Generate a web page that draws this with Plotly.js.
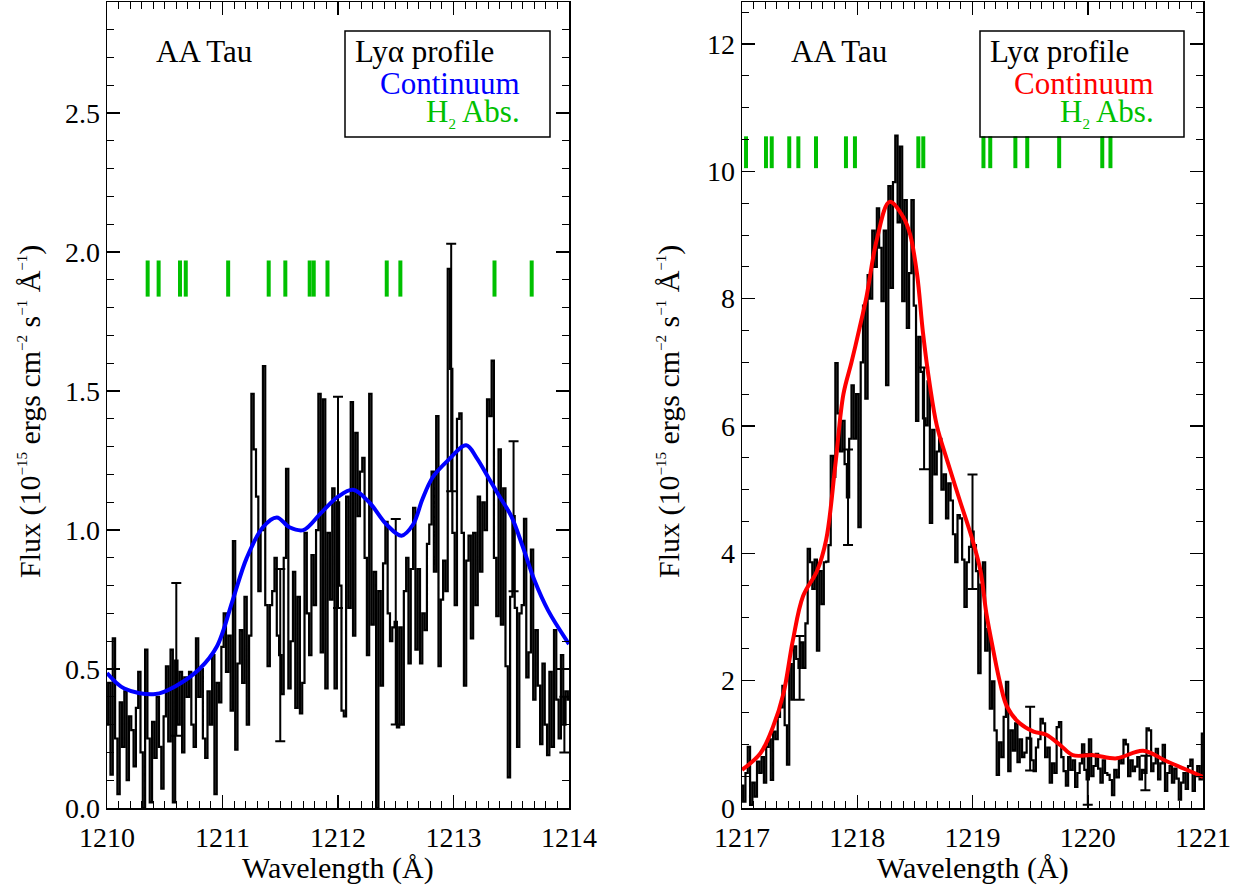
<!DOCTYPE html>
<html>
<head>
<meta charset="utf-8">
<script src="https://cdn.plot.ly/plotly-3.0.1.min.js"></script>
<style>html,body{margin:0;padding:0;background:#fff;}#chart{width:1249px;height:891px;}</style>
</head>
<body>
<div id="chart"></div>
<script>
// ---------------- DATA ----------------
// Left panel: observed Ly-alpha profile (flux in 1e-15 erg cm^-2 s^-1 A^-1), sampled every 0.02 A from 1210.00
const leftStart = 1210.00;
const leftStep = 0.02;
const leftFlux = [
  0.30, 0.45, 0.12, 0.61, 0.25, 0.05, 0.38, 0.22, 0.42, 0.10,
  0.33, 0.28, 0.15, 0.36, 0.49, 0.20, 0.00, 0.57, 0.25, 0.02,
  0.31, 0.18, 0.40, 0.22, 0.07, 0.33, 0.51, 0.24, 0.57, 0.02,
  0.53, 0.30, 0.49, 0.20, 0.47, 0.40, 0.49,
  0.30, 0.22, 0.61, 0.40, 0.50, 0.25, 0.18, 0.42, 0.30, 0.55,
  0.05, 0.45, 0.38, 0.58, 0.70, 0.49, 0.62, 0.35, 0.96, 0.21,
  0.52, 0.64, 0.45, 0.76, 0.30, 0.62, 1.49, 1.29, 1.12, 0.78,
  1.00, 1.59, 0.73,
  0.51, 0.73, 0.78, 0.90, 0.62, 0.55, 0.41, 0.90, 1.22, 0.43,
  0.60, 0.85, 0.36, 0.76, 0.34, 0.45, 0.99, 0.70, 0.55, 0.91,
  0.73, 1.00, 1.49, 0.56, 1.47, 0.43, 0.99, 0.75, 1.15, 0.43,
  1.10, 0.80, 0.35, 0.33, 1.12, 0.72, 1.46, 0.62, 1.35, 1.05,
  1.21, 1.26, 0.90, 0.55, 1.49, 0.66, 0.85, 0.00, 0.78, 0.44,
  0.88, 1.03, 0.70, 0.60, 0.65, 0.67, 0.29, 0.65, 0.30, 0.78,
  0.90, 0.52, 0.86, 1.08, 0.57,
  0.86, 0.52, 0.70, 0.64, 0.95, 1.02, 1.21, 0.85, 1.41, 0.51,
  0.75, 0.89, 0.78, 1.94, 1.58, 0.99, 0.73, 1.40, 1.42, 0.99,
  0.44, 0.89, 0.98, 0.61, 0.99, 0.73, 1.12, 0.85, 1.10, 1.00,
  1.47, 1.41, 1.61, 0.90, 0.69, 1.29, 0.66, 1.15, 0.51, 0.11,
  0.76, 1.05, 0.72, 0.22, 0.70, 0.73, 1.04, 0.47, 0.56, 0.93,
  0.39, 0.64, 0.44, 0.23, 0.52, 0.30, 0.19, 0.49, 0.22, 0.64,
  0.39, 0.25, 0.55, 0.30, 0.42, 0.39
];
const leftErrWave = [1210.60, 1211.50, 1212.00, 1212.50, 1212.98, 1213.52, 1213.96];
const leftErrFlux = [0.535, 0.55, 1.10, 0.67, 1.585, 1.05, 0.30];
const leftErrSize = [0.275, 0.31, 0.38, 0.37, 0.445, 0.27, 0.10];
const leftContWave = [1210.00, 1210.15, 1210.42, 1210.60, 1210.80, 1210.95, 1211.09, 1211.21, 1211.35, 1211.47,
  1211.58, 1211.70, 1211.85, 1212.00, 1212.13, 1212.27, 1212.42, 1212.55, 1212.65, 1212.73,
  1212.82, 1212.95, 1213.11, 1213.20, 1213.30, 1213.40, 1213.50, 1213.60, 1213.70, 1213.82, 1214.00];
const leftContFlux = [0.486, 0.43, 0.41, 0.44, 0.50, 0.58, 0.75, 0.90, 1.01, 1.045,
  1.01, 1.00, 1.06, 1.12, 1.145, 1.10, 1.02, 0.98, 1.02, 1.11,
  1.19, 1.25, 1.305, 1.26, 1.19, 1.12, 1.05, 0.94, 0.82, 0.71, 0.59];
const leftH2 = [1210.352, 1210.447, 1210.632, 1210.682, 1211.049, 1211.400, 1211.544, 1211.755, 1211.790, 1211.909,
  1212.422, 1212.540, 1213.355, 1213.677];

// Right panel
const rightStart = 1217.00;
const rightStep = 0.02;
const rightFlux = [
  0.35, 0.10, 0.55, 0.96, 0.05, 0.40, 0.18, 0.73, 0.55, 0.80,
  0.40, 0.96, 1.08, 0.44, 1.20, 1.08, 1.43, 1.58, 1.92, 1.30,
  0.68, 2.26, 1.70, 2.54, 2.34, 2.20, 2.60, 2.20, 2.90, 4.07,
  3.86, 3.44, 3.90, 2.47, 3.72, 3.20, 3.86, 3.87, 4.13, 5.53,
  5.20, 6.99, 6.20, 5.60, 6.08, 5.40, 4.88, 5.80, 6.64, 5.80,
  6.50, 4.41, 7.00, 7.89, 6.43, 8.37, 8.00, 9.07, 8.50, 9.42,
  8.80, 7.96, 9.07, 6.64, 9.77, 8.17, 9.83, 10.56, 9.20, 10.39,
  7.96, 9.55, 7.54, 8.40, 9.55, 7.89, 6.08, 7.40, 6.85, 6.12,
  6.01, 6.70, 4.48, 5.94, 5.24, 5.60, 5.80, 5.00, 5.24, 4.55,
  5.10, 4.83, 4.30, 3.86, 4.60, 4.55, 3.90, 3.16, 3.86, 4.10,
  4.34, 4.13, 3.72, 2.12, 3.51, 3.86, 2.47, 2.81, 1.56, 1.99,
  1.22, 0.52, 1.03, 0.80, 1.43, 1.98, 0.58, 1.22, 0.90, 1.33,
  0.72, 1.08, 0.80, 0.87, 1.10, 1.09, 0.75, 0.58, 0.95, 1.08,
  1.40, 1.33, 0.80, 0.95, 0.40, 0.70, 0.55, 1.27, 1.35, 0.80,
  0.58, 0.35, 0.80, 0.60, 0.75, 0.33, 0.55, 0.70, 1.00, 0.60,
  0.45, 1.08, 0.50, 0.66, 0.85, 0.62, 0.40, 0.75, 0.55, 0.52,
  0.44, 0.20, 0.60, 0.48, 0.80, 0.70, 1.07, 1.00, 0.50, 0.75,
  0.58, 0.65, 0.80, 0.45, 0.60, 0.55, 1.25, 1.22, 0.58, 0.70,
  0.93, 0.45, 0.70, 0.99, 0.27, 0.55, 0.66, 0.40, 0.62, 0.46,
  0.13, 0.40, 0.55, 0.30, 0.66, 0.76, 0.27, 0.50, 0.66, 0.45,
  1.17
];
const rightErrWave = [1217.50, 1217.92, 1218.58, 1219.00, 1219.50, 1220.00, 1220.50];
const rightErrFlux = [2.20, 4.88, 6.12, 4.34, 1.09, 0.45, 0.55];
const rightErrSize = [0.50, 0.75, 0.80, 0.90, 0.50, 0.40, 0.27];
const rightContWave = [1217.00, 1217.16, 1217.27, 1217.36, 1217.44, 1217.53, 1217.65, 1217.73, 1217.81, 1217.88,
  1217.95, 1218.02, 1218.08, 1218.17, 1218.28, 1218.40, 1218.46, 1218.52, 1218.57, 1218.63,
  1218.69, 1218.78, 1218.89, 1219.00, 1219.07, 1219.12, 1219.18, 1219.24, 1219.30, 1219.41,
  1219.53, 1219.64, 1219.76, 1219.87, 1220.05, 1220.25, 1220.48, 1220.69, 1221.00];
const rightContFlux = [0.60, 0.86, 1.28, 1.80, 2.62, 3.33, 3.72, 4.21, 5.39, 6.50,
  7.00, 7.54, 8.03, 8.93, 9.52, 9.28, 9.00, 8.37, 7.47, 6.64,
  6.01, 5.46, 4.83, 4.21, 3.72, 3.06, 2.48, 1.96, 1.59, 1.33,
  1.20, 1.15, 0.99, 0.83, 0.83, 0.78, 0.90, 0.73, 0.49];
const rightH2 = [1217.035, 1217.208, 1217.258, 1217.410, 1217.489, 1217.642, 1217.902, 1217.980, 1218.530, 1218.573,
  1219.095, 1219.154, 1219.372, 1219.475, 1219.752, 1220.126, 1220.197];

// text
const starName = "AA Tau";
const legendLabels = ["Ly\u03b1 profile", "Continuum", "H<sub><span style=\"font-size:15px\">2</span></sub> Abs."];
const xTitle = "Wavelength (\u00c5)";
const sup = s => "<sup><span style=\"font-size:15px\">" + s + "</span></sup>";
const yTitle = "Flux (10" + sup("\u221215") + " ergs cm" + sup("\u22122") + " s" + sup("\u22121") + " \u00c5" + sup("\u22121") + ")";

// ---------------- BUILD ----------------
function grid(start, step, n) { const a = []; for (let i = 0; i < n; i++) a.push(+(start + i * step).toFixed(4)); return a; }
function tickMarks(waves, lo, hi) {
  const x = [], y = [];
  waves.forEach(w => { x.push(w, w, null); y.push(lo, hi, null); });
  return {x, y};
}
const W = 1249, H = 891;
const FONT = "Liberation Serif, Times New Roman, serif";
const BLUE = "#0000ff", RED = "#ff0000", GREEN = "#00c000";

const leftWave = grid(leftStart, leftStep, leftFlux.length);
const rightWave = grid(rightStart, rightStep, rightFlux.length);
const lm = tickMarks(leftH2, 1.84, 1.97);
const rm = tickMarks(rightH2, 10.05, 10.55);

const traces = [
  {x: leftWave, y: leftFlux, xaxis: 'x', yaxis: 'y', mode: 'lines', line: {color: '#000', width: 2.2, shape: 'hvh'}},
  {x: leftErrWave, y: leftErrFlux, xaxis: 'x', yaxis: 'y', mode: 'markers', marker: {size: 1, color: '#000'},
   error_y: {type: 'data', array: leftErrSize, visible: true, color: '#000', thickness: 2, width: 5}},
  {x: leftContWave, y: leftContFlux, xaxis: 'x', yaxis: 'y', mode: 'lines', line: {color: BLUE, width: 4, shape: 'spline', smoothing: 1}},
  {x: lm.x, y: lm.y, xaxis: 'x', yaxis: 'y', mode: 'lines', line: {color: GREEN, width: 4}, connectgaps: false},
  {x: rightWave, y: rightFlux, xaxis: 'x2', yaxis: 'y2', mode: 'lines', line: {color: '#000', width: 2.2, shape: 'hvh'}},
  {x: rightErrWave, y: rightErrFlux, xaxis: 'x2', yaxis: 'y2', mode: 'markers', marker: {size: 1, color: '#000'},
   error_y: {type: 'data', array: rightErrSize, visible: true, color: '#000', thickness: 2, width: 5}},
  {x: rightContWave, y: rightContFlux, xaxis: 'x2', yaxis: 'y2', mode: 'lines', line: {color: RED, width: 4, shape: 'spline', smoothing: 1}},
  {x: rm.x, y: rm.y, xaxis: 'x2', yaxis: 'y2', mode: 'lines', line: {color: GREEN, width: 4}, connectgaps: false}
];

const yTop = 1 - 2 / H, yBot = 1 - 808 / H;
function xAxis(domain, range) {
  return {domain, range, dtick: 1, tick0: 0, ticks: 'inside', ticklen: 13, tickwidth: 1.5, tickcolor: '#000',
    showline: true, linecolor: '#000', linewidth: 1.5, mirror: 'allticks', showgrid: false, zeroline: false,
    ticklabelstandoff: 4,
    minor: {dtick: 0.1, ticks: 'inside', ticklen: 7, tickwidth: 1, tickcolor: '#000', showgrid: false},
    tickfont: {family: FONT, size: 28, color: '#000'}, fixedrange: true};
}
function yAxis(anchor, range, dtick, minor, fmt) {
  return {domain: [yBot, yTop], anchor, range, dtick, tick0: 0, tickformat: fmt, ticks: 'inside', ticklen: 13, tickwidth: 1.5, tickcolor: '#000',
    showline: true, linecolor: '#000', linewidth: 1.5, mirror: 'allticks', showgrid: false, zeroline: false,
    minor: {dtick: minor, ticks: 'inside', ticklen: 7, tickwidth: 1, tickcolor: '#000', showgrid: false},
    tickfont: {family: FONT, size: 28, color: '#000'}, fixedrange: true};
}

const ann = [];
function addPanelText(xl, legL, legR, contColor) {
  ann.push({xref: 'paper', yref: 'paper', x: xl / W, y: 1 - 52 / H, xanchor: 'left', yanchor: 'middle', text: starName, showarrow: false, font: {family: FONT, size: 31, color: '#000'}});
  ann.push({xref: 'paper', yref: 'paper', x: (legL + 8) / W, y: 1 - 52 / H, xanchor: 'left', yanchor: 'middle', text: legendLabels[0], showarrow: false, font: {family: FONT, size: 31, color: '#000'}});
  ann.push({xref: 'paper', yref: 'paper', x: (legR - 28) / W, y: 1 - 83 / H, xanchor: 'right', yanchor: 'middle', text: legendLabels[1], showarrow: false, font: {family: FONT, size: 31, color: contColor}});
  ann.push({xref: 'paper', yref: 'paper', x: (legR - 28) / W, y: 1 - 113 / H, xanchor: 'right', yanchor: 'middle', text: legendLabels[2], showarrow: false, font: {family: FONT, size: 31, color: GREEN}});
}
addPanelText(154, 345, 550, BLUE);
addPanelText(789, 980, 1184, RED);
[[338, 30], [972.5, 669]].forEach(([cx, ty]) => {
  ann.push({xref: 'paper', yref: 'paper', x: cx / W, y: 1 - 868 / H, xanchor: 'center', yanchor: 'middle', text: xTitle, showarrow: false, font: {family: FONT, size: 30, color: '#000'}});
  ann.push({xref: 'paper', yref: 'paper', x: ty / W, y: 1 - 412 / H, xanchor: 'center', yanchor: 'middle', textangle: -90, text: yTitle, showarrow: false, font: {family: FONT, size: 30, color: '#000'}});
});

const shapes = [
  {type: 'rect', xref: 'paper', yref: 'paper', x0: 345 / W, x1: 550 / W, y0: 1 - 137 / H, y1: 1 - 31 / H, line: {color: '#000', width: 1.5}, fillcolor: 'rgba(0,0,0,0)'},
  {type: 'rect', xref: 'paper', yref: 'paper', x0: 980 / W, x1: 1184 / W, y0: 1 - 137 / H, y1: 1 - 31 / H, line: {color: '#000', width: 1.5}, fillcolor: 'rgba(0,0,0,0)'}
];

const layout = {
  width: W, height: H, margin: {l: 0, r: 0, t: 0, b: 0}, paper_bgcolor: '#fff', plot_bgcolor: '#fff',
  showlegend: false, font: {family: FONT, color: '#000'},
  xaxis: Object.assign(xAxis([107 / W, 569 / W], [1210, 1214]), {anchor: 'y'}),
  yaxis: yAxis('x', [0, 2.9], 0.5, 0.1, '.1f'),
  xaxis2: Object.assign(xAxis([742 / W, 1203 / W], [1217, 1221]), {anchor: 'y2'}),
  yaxis2: yAxis('x2', [0, 12.66], 2, 0.5, 'd'),
  annotations: ann, shapes
};

Plotly.newPlot('chart', traces, layout, {staticPlot: true, displayModeBar: false});
</script>
</body>
</html>
